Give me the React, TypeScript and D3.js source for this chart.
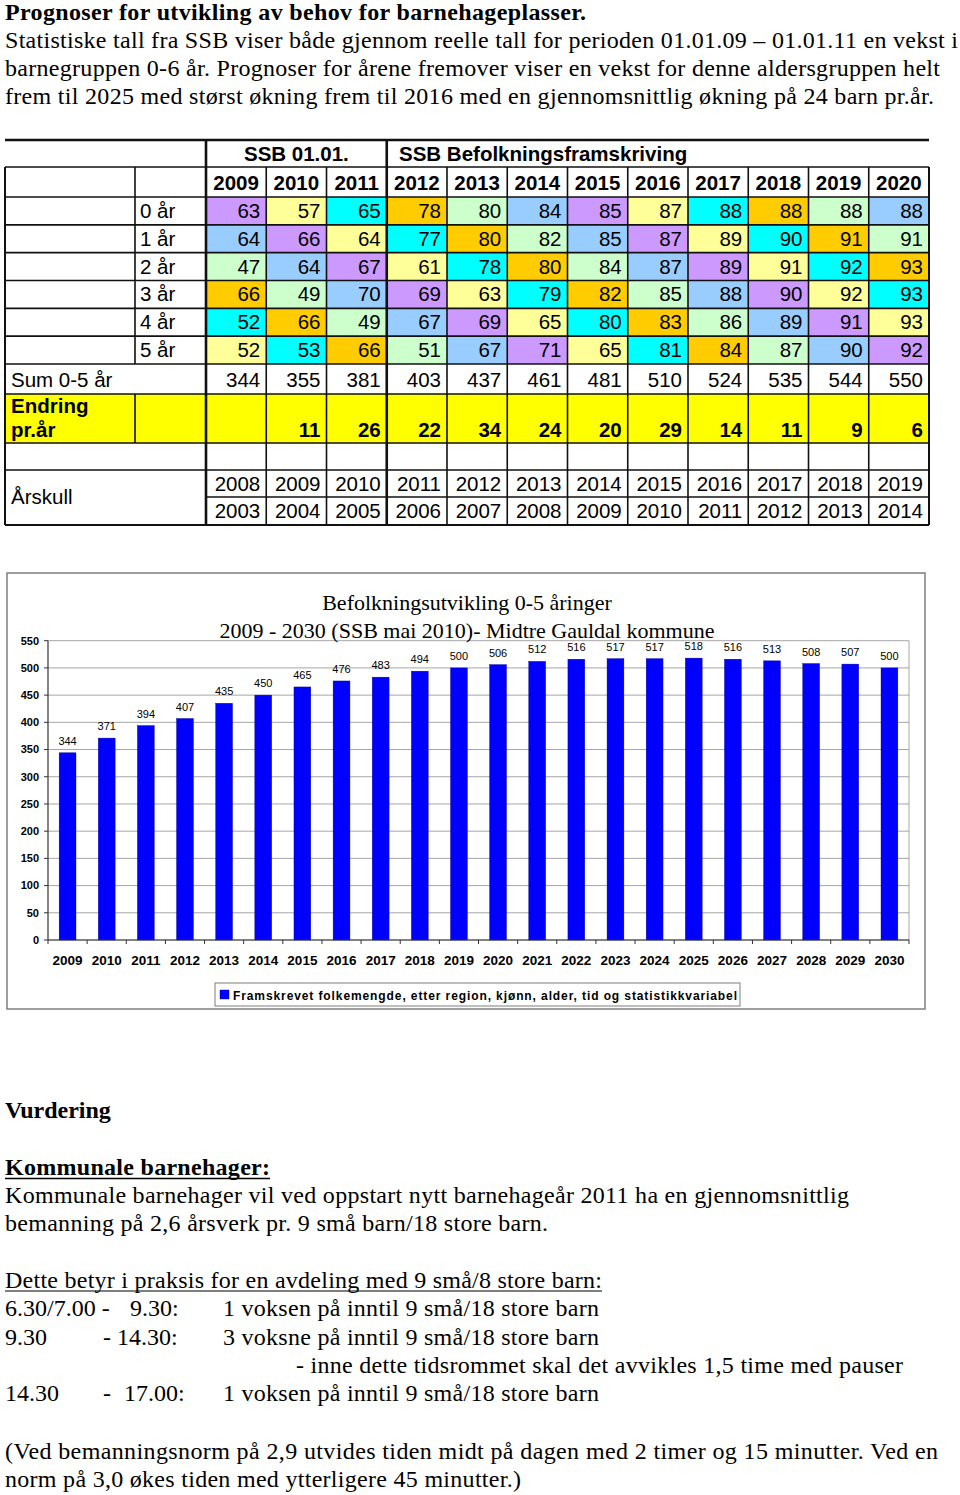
import React from 'react';
import * as d3 from 'd3';

// ---------- Table data ----------
const tableYears = ['2009', '2010', '2011', '2012', '2013', '2014', '2015', '2016', '2017', '2018', '2019', '2020'];
const ageLabels = ['0 år', '1 år', '2 år', '3 år', '4 år', '5 år'];
const age0 = [63, 57, 65, 78, 80, 84, 85, 87, 88, 88, 88, 88];
const age1 = [64, 66, 64, 77, 80, 82, 85, 87, 89, 90, 91, 91];
const age2 = [47, 64, 67, 61, 78, 80, 84, 87, 89, 91, 92, 93];
const age3 = [66, 49, 70, 69, 63, 79, 82, 85, 88, 90, 92, 93];
const age4 = [52, 66, 49, 67, 69, 65, 80, 83, 86, 89, 91, 93];
const age5 = [52, 53, 66, 51, 67, 71, 65, 81, 84, 87, 90, 92];
const ageValues = [age0, age1, age2, age3, age4, age5];
const sumValues = [344, 355, 381, 403, 437, 461, 481, 510, 524, 535, 544, 550];
const changeValues = [null, 11, 26, 22, 34, 24, 20, 29, 14, 11, 9, 6];
const cohortRow1 = ['2008', '2009', '2010', '2011', '2012', '2013', '2014', '2015', '2016', '2017', '2018', '2019'];
const cohortRow2 = ['2003', '2004', '2005', '2006', '2007', '2008', '2009', '2010', '2011', '2012', '2013', '2014'];
const cellPalette = ['#cc99ff', '#ffff99', '#00ffff', '#ffcc00', '#ccffcc', '#99ccff'];

// ---------- Chart data ----------
const chartYears = ['2009', '2010', '2011', '2012', '2013', '2014', '2015', '2016', '2017', '2018', '2019',
  '2020', '2021', '2022', '2023', '2024', '2025', '2026', '2027', '2028', '2029', '2030'];
const chartValues = [344, 371, 394, 407, 435, 450, 465, 476, 483, 494, 500, 506, 512, 516, 517, 517, 518, 516, 513, 508, 507, 500];
const yTicks = [0, 50, 100, 150, 200, 250, 300, 350, 400, 450, 500, 550];
const chartTitle1 = 'Befolkningsutvikling 0-5 åringer';
const chartTitle2 = '2009 - 2030 (SSB mai 2010)- Midtre Gauldal kommune';
const legendLabel = 'Framskrevet folkemengde, etter region, kjønn, alder, tid og statistikkvariabel';

const SANS = 'Liberation Sans, Arial, sans-serif';
const SERIF = 'Liberation Serif, Times New Roman, serif';

function Table() {
  const L = 5, C1 = 135, C2 = 206, R = 929;
  const x = d3.scaleBand().domain(tableYears).range([C2, R]);
  const bw = x.bandwidth();
  const ay = d3.scaleBand().domain(ageLabels).range([197, 364]);
  const rh = ay.bandwidth();
  const yTop = 140, yHdr = 167, ySum = 364, yEnd = 394, yEmpty = 443, yArs1 = 470, yArs2 = 497, yBot = 525;
  const fs = 20.5;
  const lines: JSX.Element[] = [];
  const hl = (y: number, x1: number, x2: number, w = 1.6, k = '') =>
    lines.push(<line key={'h' + y + k} x1={x1} x2={x2} y1={y} y2={y} stroke="#111" strokeWidth={w} />);
  const vl = (xx: number, y1: number, y2: number, w = 1.6, k = '') =>
    lines.push(<line key={'v' + xx + k} x1={xx} x2={xx} y1={y1} y2={y2} stroke="#111" strokeWidth={w} />);

  hl(yTop, L, R, 2.6);
  hl(yHdr, L, R);
  hl(197, L, R);
  ageLabels.forEach((a) => hl((ay(a) as number) + rh, L, R, 1.6, a));
  hl(yEnd, L, R);
  hl(yEmpty, L, R);
  hl(yArs1, L, R);
  hl(yArs2, C2, R);
  hl(yBot, L, R, 2);
  vl(L, yHdr, yBot, 2);
  vl(R, yHdr, yBot, 2);
  vl(C1, yHdr, ySum, 1.6, 'a');
  vl(C1, yEnd, yEmpty, 1.6, 'b');
  vl(C2, yTop, yBot, 2.6);
  tableYears.forEach((yr, i) => {
    if (i === 0) return;
    const xx = x(yr) as number;
    if (yr === '2012') vl(xx, yTop, yBot, 2.6);
    else vl(xx, yHdr, yBot, 1.6);
  });

  const cells: JSX.Element[] = [];
  ageValues.forEach((row, r) => {
    const y0 = ay(ageLabels[r]) as number;
    row.forEach((v, c) => {
      const col = cellPalette[(((c - r) % 6) + 6) % 6];
      cells.push(<rect key={`c${r}-${c}`} x={x(tableYears[c])} y={y0} width={bw} height={rh} fill={col} />);
    });
  });

  const texts: JSX.Element[] = [];
  texts.push(<text key="hdr1" x={(C2 + (x('2012') as number)) / 2} y={161} textAnchor="middle" fontWeight="bold">SSB 01.01.</text>);
  texts.push(<text key="hdr2" x={399} y={161} fontWeight="bold">SSB Befolkningsframskriving</text>);
  tableYears.forEach((yr) => {
    texts.push(<text key={'yr' + yr} x={(x(yr) as number) + bw / 2} y={190} textAnchor="middle" fontWeight="bold">{yr}</text>);
  });
  ageValues.forEach((row, r) => {
    const y0 = ay(ageLabels[r]) as number;
    texts.push(<text key={'al' + r} x={C1 + 5} y={y0 + rh - 7}>{ageLabels[r]}</text>);
    row.forEach((v, c) => {
      texts.push(<text key={`v${r}-${c}`} x={(x(tableYears[c]) as number) + bw - 6} y={y0 + rh - 7} textAnchor="end">{v}</text>);
    });
  });
  texts.push(<text key="sumL" x={11} y={ySum + 23}>Sum 0-5 år</text>);
  sumValues.forEach((v, c) => {
    texts.push(<text key={'s' + c} x={(x(tableYears[c]) as number) + bw - 6} y={ySum + 23} textAnchor="end">{v}</text>);
  });
  texts.push(<text key="endL1" x={11} y={yEnd + 19} fontWeight="bold">Endring</text>);
  texts.push(<text key="endL2" x={11} y={yEmpty - 6} fontWeight="bold">pr.år</text>);
  changeValues.forEach((v, c) => {
    if (v === null) return;
    texts.push(<text key={'e' + c} x={(x(tableYears[c]) as number) + bw - 6} y={yEmpty - 6} textAnchor="end" fontWeight="bold">{v}</text>);
  });
  texts.push(<text key="ars" x={11} y={504}>Årskull</text>);
  cohortRow1.forEach((v, c) => {
    texts.push(<text key={'a1' + c} x={(x(tableYears[c]) as number) + bw - 6} y={yArs1 + 21} textAnchor="end">{v}</text>);
  });
  cohortRow2.forEach((v, c) => {
    texts.push(<text key={'a2' + c} x={(x(tableYears[c]) as number) + bw - 6} y={yArs2 + 21} textAnchor="end">{v}</text>);
  });

  return (
    <g fontFamily={SANS} fontSize={fs} fill="#000">
      <rect x={L} y={yEnd} width={R - L} height={yEmpty - yEnd} fill="#ffff00" />
      {cells}
      {texts}
      {lines}
    </g>
  );
}

function Chart() {
  const left = 48, right = 909, top = 640.7, bottom = 940;
  const x = d3.scaleBand().domain(chartYears).range([left, right]);
  const y = d3.scaleLinear().domain([0, 550]).range([bottom, top]);
  const bw = x.bandwidth();
  const barW = bw * 0.43;
  return (
    <g>
      <rect x={7} y={573} width={918} height={436} fill="#fff" stroke="#7f7f7f" strokeWidth={1.5} />
      {yTicks.map((t) => (
        <line key={'g' + t} x1={left} x2={right} y1={y(t)} y2={y(t)} stroke="#a6a6a6" strokeWidth={1} />
      ))}
      <line x1={right} x2={right} y1={top} y2={bottom} stroke="#a6a6a6" strokeWidth={1} />
      {chartYears.map((yr, i) => {
        const cx = (x(yr) as number) + bw / 2;
        const yt = y(chartValues[i]);
        return (
          <g key={'b' + yr}>
            <rect x={cx - barW / 2} y={yt} width={barW} height={bottom - yt} fill="#0000ff" stroke="#00008b" strokeWidth={0.4} />
            <text x={cx} y={yt - 8} textAnchor="middle" fontFamily={SANS} fontSize={11} fill="#000">{chartValues[i]}</text>
            <text x={cx} y={965} textAnchor="middle" fontFamily={SANS} fontSize={13.5} fontWeight="bold" fill="#000">{yr}</text>
          </g>
        );
      })}
      <line x1={left} x2={left} y1={top} y2={bottom} stroke="#333" strokeWidth={1.2} />
      <line x1={left} x2={right} y1={bottom} y2={bottom} stroke="#333" strokeWidth={1.2} />
      {yTicks.map((t) => (
        <g key={'yt' + t}>
          <line x1={left - 4} x2={left} y1={y(t)} y2={y(t)} stroke="#333" strokeWidth={1} />
          <text x={39} y={y(t)} dy="0.35em" textAnchor="end" fontFamily={SANS} fontSize={11} fontWeight="bold" fill="#000">{t}</text>
        </g>
      ))}
      {chartYears.concat(['end']).map((yr, i) => {
        const xx = i < chartYears.length ? (x(yr) as number) : right;
        return <line key={'xt' + i} x1={xx} x2={xx} y1={bottom} y2={bottom + 4} stroke="#333" strokeWidth={1} />;
      })}
      <text x={467} y={610} textAnchor="middle" fontFamily={SERIF} fontSize={22} fill="#000">{chartTitle1}</text>
      <text x={467} y={638} textAnchor="middle" fontFamily={SERIF} fontSize={22} fill="#000">{chartTitle2}</text>
      <rect x={215} y={983} width={525} height={23} fill="#fff" stroke="#7f7f7f" strokeWidth={1} />
      <rect x={220} y={990} width={9} height={9} fill="#0000ff" stroke="#00008b" strokeWidth={0.4} />
      <text x={233} y={999.5} fontFamily={SANS} fontSize={12} fontWeight="bold" fill="#000" textLength={504} lengthAdjust="spacing">{legendLabel}</text>
    </g>
  );
}

const introLines = [
  { t: 'Statistiske tall fra SSB viser både gjennom reelle tall for perioden 01.01.09 – 01.01.11 en vekst i', y: 48, w: 953 },
  { t: 'barnegruppen 0-6 år. Prognoser for årene fremover viser en vekst for denne aldersgruppen helt', y: 76, w: 935 },
  { t: 'frem til 2025 med størst økning frem til 2016 med en gjennomsnittlig økning på 24 barn pr.år.', y: 104, w: 929 },
];

function BodyText() {
  const fs = 24;
  return (
    <g fontFamily={SERIF} fontSize={fs} fill="#000">
      <text x={5} y={20} fontWeight="bold" textLength={581} lengthAdjust="spacing">Prognoser for utvikling av behov for barnehageplasser.</text>
      {introLines.map((l) => (
        <text key={l.y} x={5} y={l.y} textLength={l.w} lengthAdjust="spacing">{l.t}</text>
      ))}
      <text x={5} y={1118} fontWeight="bold">Vurdering</text>
      <text x={5} y={1175} fontWeight="bold" textLength={265} lengthAdjust="spacing">Kommunale barnehager:</text>
      <line x1={5} x2={270} y1={1178.5} y2={1178.5} stroke="#000" strokeWidth={1.6} />
      <text x={5} y={1203} textLength={844} lengthAdjust="spacing">Kommunale barnehager vil ved oppstart nytt barnehageår 2011 ha en gjennomsnittlig</text>
      <text x={5} y={1231} textLength={543} lengthAdjust="spacing">bemanning på 2,6 årsverk pr. 9 små barn/18 store barn.</text>
      <text x={5} y={1288} textLength={597} lengthAdjust="spacing">Dette betyr i praksis for en avdeling med 9 små/8 store barn:</text>
      <line x1={5} x2={602} y1={1291} y2={1291} stroke="#000" strokeWidth={1.2} />
      <text x={5} y={1316}>6.30/7.00 -</text>
      <text x={130} y={1316}>9.30:</text>
      <text x={223} y={1316} textLength={376} lengthAdjust="spacing">1 voksen på inntil 9 små/18 store barn</text>
      <text x={5} y={1345}>9.30</text>
      <text x={103} y={1345}>- 14.30:</text>
      <text x={223} y={1345} textLength={376} lengthAdjust="spacing">3 voksne på inntil 9 små/18 store barn</text>
      <text x={296} y={1373} textLength={607} lengthAdjust="spacing">- inne dette tidsrommet skal det avvikles 1,5 time med pauser</text>
      <text x={5} y={1401}>14.30</text>
      <text x={103} y={1401}>-</text>
      <text x={124} y={1401}>17.00:</text>
      <text x={223} y={1401} textLength={376} lengthAdjust="spacing">1 voksen på inntil 9 små/18 store barn</text>
      <text x={5} y={1459} textLength={933} lengthAdjust="spacing">(Ved bemanningsnorm på 2,9 utvides tiden midt på dagen med 2 timer og 15 minutter. Ved en</text>
      <text x={5} y={1487} textLength={516} lengthAdjust="spacing">norm på 3,0 økes tiden med ytterligere 45 minutter.)</text>
    </g>
  );
}

export default function App() {
  return (
    <svg width={960} height={1495} viewBox="0 0 960 1495" style={{ position: 'absolute', left: 0, top: 0, background: '#fff' }}>
      <rect x={0} y={0} width={960} height={1495} fill="#fff" />
      <BodyText />
      <Table />
      <Chart />
    </svg>
  );
}
